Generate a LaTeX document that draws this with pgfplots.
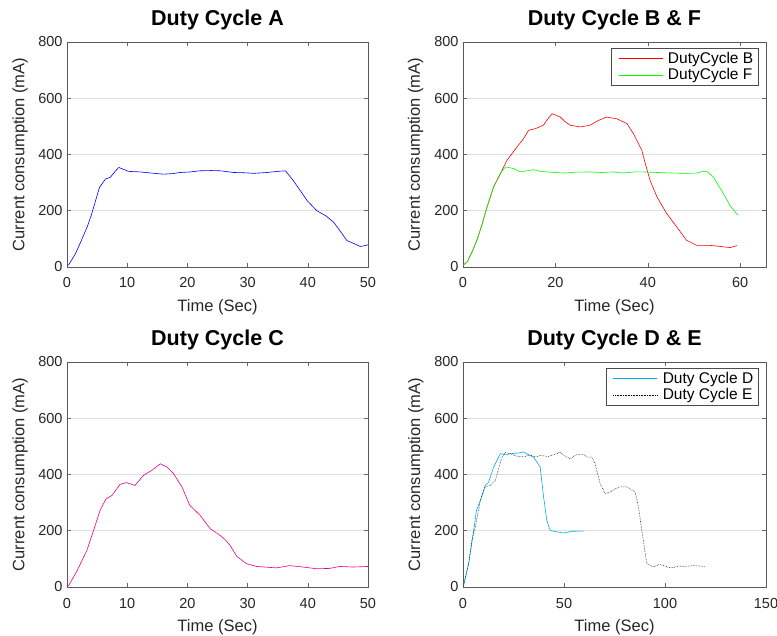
\documentclass[border=0pt]{standalone}
\usepackage{fontspec}
\setmainfont{Liberation Sans}
\usepackage{pgfplots}
\pgfplotsset{compat=1.18}

% shared look of the four panels
\pgfplotsset{
  dc/.style={
    scale only axis, height=225pt,
    ymin=0, ymax=800, ytick={0,200,400,600,800},
    ymajorgrids, grid style={black!12, line width=0.5pt},
    tick align=inside, major tick length=4pt,
    tick style={black!60, line width=0.5pt},
    axis line style={black!65, line width=0.6pt},
    tick label style={font=\fontsize{14.5}{16}\selectfont, text=black!85},
    x tick label style={anchor=base, yshift=-21pt},
    y tick label style={xshift=-1pt},
    label style={font=\fontsize{16.5}{18}\selectfont, text=black!85},
    title style={font=\fontsize{21.5}{24}\selectfont\bfseries,
      at={(0.5,1)}, anchor=base, yshift=10pt},
    /pgf/number format/assume math mode=true,
    xlabel={Time (Sec)}, ylabel={Current consumption (mA)},
    ylabel style={at={(axis description cs:-0.156,0.5)}, anchor=center},
    xlabel style={at={(axis description cs:0.5,-0.1956)}, anchor=base},
    legend cell align=left,
    legend style={font=\fontsize{15.5}{17}\selectfont, draw=black!70,
      at={(0.975,0.975)}, anchor=north east, row sep=0pt},
    legend image code/.code={
      \draw[#1] (0pt,0pt) -- (44pt,0pt);
      \path (-4pt,-3pt) (47pt,3pt);},
    every axis plot/.append style={line width=0.6pt},
  },
}

\begin{document}
\begin{tikzpicture}
\useasboundingbox (0,0) rectangle (777pt,635pt);

% Duty Cycle A
\begin{axis}[dc, width=301pt, at={(67pt,368pt)}, anchor=south west,
  title={Duty Cycle A}, xmin=0, xmax=50, xtick={0,10,20,30,40,50}]
\addplot[draw=blue, no marks] coordinates {
(0,6) (0.3,8) (1.4,47) (2.4,95) (3.4,145) (4.1,189) (5.4,283) (6.4,313) (7.2,319)
(8.0,340) (8.6,354) (9.3,348) (10.2,340) (12.2,338) (14,334) (16,330) (17.5,332)
(18.8,336) (20.5,338) (22,342) (24,343) (25.5,342) (27.7,336) (29.5,335) (31,333)
(33.2,336) (35,340) (36.3,342) (37.6,307) (39.9,236) (41.5,200) (43,182)
(44.3,159) (45.3,130) (46.5,94) (47.5,85) (48.7,73) (49.5,76) (50,79)};
\end{axis}

% Duty Cycle B & F
\begin{axis}[dc, width=303pt, at={(463pt,368pt)}, anchor=south west,
  title={Duty Cycle B \& F}, xmin=0, xmax=65.6, xtick={0,20,40,60}]
\addplot[draw=red, no marks] coordinates {
(0,6) (0.9,18) (2,55) (3,95) (4.1,150) (5.2,213) (6.6,284) (8.1,332) (9.5,379)
(11.7,427) (13.1,456) (14.2,486) (15.7,492) (17.4,504) (18.3,525) (19.3,545)
(21.1,533) (22,518) (23.2,504) (25.4,498) (27.5,504) (29.3,521) (31.1,533)
(33.3,527) (35.5,510) (36.9,474) (38.7,415) (39.6,360) (40.5,308) (42,249)
(44.1,190) (46.3,142) (48.4,95) (50.6,77) (53.5,77) (55.7,73) (57.8,69) (59.3,76)};
\addlegendentry{DutyCycle B}
\addplot[draw=green, no marks] coordinates {
(0,6) (0.9,18) (2,55) (3,95) (4.1,150) (5.2,213) (6.6,284) (8.1,334) (9.2,356)
(11,350) (12.4,338) (13.8,342) (15.3,346) (16.8,340) (18.2,338) (20,336)
(21.8,334) (24,337) (27.5,338) (30,336) (32.5,338) (34.8,334) (37,338) (39,338)
(42,336) (45.6,334) (48,333) (50.6,334) (52.2,341) (53,338) (54.2,320) (55.3,290)
(56.4,261) (57.8,219) (59.5,184)};
\addlegendentry{DutyCycle F}
\end{axis}

% Duty Cycle C
\begin{axis}[dc, width=301pt, at={(67pt,48pt)}, anchor=south west,
  title={Duty Cycle C}, xmin=0, xmax=50, xtick={0,10,20,30,40,50}]
\addplot[draw=magenta, no marks] coordinates {
(0,4) (0.3,6) (1.7,59) (3.3,130) (4.4,200) (5.5,273) (6.5,314) (7.5,326)
(8.8,365) (9.9,371) (11.3,361) (12.7,397) (14.1,415) (15.5,438) (16.6,427)
(17.7,403) (19.1,356) (20.4,290) (22.1,255) (23.8,207) (25.4,184) (26.2,170)
(27.1,148) (28.2,109) (29.8,83) (31.5,73) (34.8,68) (37,76) (39.2,71) (41.4,65)
(43.6,66) (45.3,73) (47.5,71) (50,73)};
\end{axis}

% Duty Cycle D & E
\begin{axis}[dc, width=303pt, at={(463pt,48pt)}, anchor=south west,
  title={Duty Cycle D \& E}, xmin=0, xmax=150, xtick={0,50,100,150}]
\addplot[draw=cyan, no marks] coordinates {
(0,4) (0.3,6) (2.8,83) (5.3,201) (6.6,270) (8.6,308) (11,361) (12.7,373)
(15.2,427) (18.5,474) (21,470) (23.4,474) (27,476) (30,480) (33,468) (34.9,462)
(38.2,427) (39.9,320) (41.5,237) (43.2,201) (46.5,196) (49.8,192) (53.9,198)
(59.7,199)};
\addlegendentry{Duty Cycle D}
\addplot[draw=black, densely dotted, line width=0.5pt, no marks] coordinates {
(0,4) (0.3,6) (2.8,83) (4.5,170) (6.1,213) (8.6,308) (11,356) (13.5,361)
(16,379) (19.3,462) (21,478) (23.4,474) (26,466) (30,462) (33,470) (36,462)
(38.2,468) (42,464) (46.5,474) (48,480) (50,468) (53.1,456) (56,470) (59.7,471)
(61.5,462) (63.8,462) (65.4,438) (67.9,367) (70.4,332) (72.9,338) (75,348)
(77.8,356) (81.1,356) (83,348) (85.2,338) (86.9,284) (88.5,201) (91,83)
(94.3,71) (97,80) (99.2,77) (101.5,70) (104.2,69) (107,75) (109.1,73)
(114.1,76) (119.8,73)};
\addlegendentry{Duty Cycle E}
\end{axis}
\end{tikzpicture}
\end{document}
